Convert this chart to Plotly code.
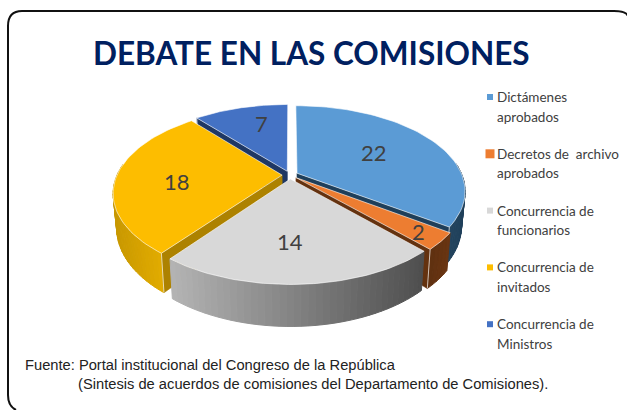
import numpy as np
import plotly.graph_objects as go

title = 'DEBATE EN LAS COMISIONES'
categories = [['Dictámenes', 'aprobados'], ['Decretos de  archivo', 'aprobados'],
              ['Concurrencia de', 'funcionarios'], ['Concurrencia de', 'invitados'],
              ['Concurrencia de', 'Ministros']]
values = [22, 2, 14, 18, 7]
top_colors = ['#5B9BD5', '#ED7D31', '#D8D8D8', '#FDBD00', '#4472C4']
wall_colors = ['#1F3F5A', '#64320F', '#6E6E6E', '#AD8200', '#1F3864']
# outer wall gradient, left to right
side_left = ['#24465F', '#5F3010', '#B4B4B4', '#C89800', '#2A4A80']
side_right = ['#1F3F5A', '#6A3612', '#4E4E4E', '#E2AC00', '#2A4A80']
source = ('Fuente: Portal institucional del Congreso de la República<br>'
          '             (Sintesis de acuerdos de comisiones del Departamento de Comisiones).')

# pie projection, in pixels of the page
CX, CY = 290, 175
RX, RY = 165, 82
PERSP = 0.205
EXPLODE = 0.048
DEPTH = 33
BOTTOM_SHRINK = 0.98


def project(theta, r, mid, low=False):
    # theta clockwise from 12 o'clock, v grows toward the viewer
    px = r*np.sin(theta) + EXPLODE*np.sin(mid)
    v = -r*np.cos(theta) - EXPLODE*np.cos(mid)
    s = 1/(1 - PERSP*v)
    x = CX + RX*px*s
    y = CY + RY*v*s
    if low:
        x = CX + (x - CX)*BOTTOM_SHRINK
        y = y + DEPTH*s
    return x, y


def hex_mix(c1, c2, t):
    a = [int(c1[i:i+2], 16) for i in (1, 3, 5)]
    b = [int(c2[i:i+2], 16) for i in (1, 3, 5)]
    return 'rgb({},{},{})'.format(*[round(p + (q-p)*t) for p, q in zip(a, b)])


def poly(xs, ys, fill, line=None, width=0.6):
    return go.Scatter(x=list(xs), y=list(ys), mode='lines', fill='toself', fillcolor=fill,
                      line=dict(color=line or fill, width=width),
                      hoverinfo='skip', showlegend=False)


fig = go.Figure()

edges = np.cumsum([0] + values)/sum(values)*2*np.pi
starts, ends = edges[:-1], edges[1:]
mids = (starts + ends)/2

# back to front
for i in [4, 0, 3, 1, 2]:
    a0, a1, mid = starts[i], ends[i], mids[i]

    # outer wall strips
    n = max(int(np.degrees(a1 - a0)/2), 2)
    thetas = np.linspace(a0, a1, n + 1)
    rim_all = [project(t, 1, mid)[0] for t in thetas if -np.cos(t) > -0.12]
    if rim_all:
        xmin, xmax = min(rim_all), max(rim_all)
        for t0, t1 in zip(thetas[:-1], thetas[1:]):
            if -np.cos((t0+t1)/2) <= -0.12:
                continue
            x0, y0 = project(t0, 1, mid)
            x1, y1 = project(t1, 1, mid)
            x2, y2 = project(t1, 1, mid, low=True)
            x3, y3 = project(t0, 1, mid, low=True)
            c = hex_mix(side_left[i], side_right[i], ((x0+x1)/2 - xmin)/max(xmax - xmin, 1))
            fig.add_trace(poly([x0, x1, x2, x3, x0], [y0, y1, y2, y3, y0], c, width=1))

    # radial cut walls facing the viewer
    if np.sin(a1) > 0.05:
        wall = a1
    elif -np.sin(a0) > 0.05:
        wall = a0
    else:
        wall = None
    if wall is not None:
        xa, ya = project(wall, 0, mid)
        xb, yb = project(wall, 1, mid)
        xc, yc = project(wall, 1, mid, low=True)
        xd, yd = project(wall, 0, mid, low=True)
        fig.add_trace(poly([xa, xb, xc, xd, xa], [ya, yb, yc, yd, ya], wall_colors[i]))
        fig.add_trace(go.Scatter(x=[xb, xc], y=[yb, yc], mode='lines', hoverinfo='skip', showlegend=False,
                                 line=dict(color='rgba(255,255,255,0.7)', width=1)))

    # top face
    arc = np.linspace(a0, a1, 60)
    ax, ay = project(arc, 1, mid)
    ox, oy = project(0, 0, mid)
    fig.add_trace(poly([ox, *ax, ox], [oy, *ay, oy], top_colors[i], line='rgba(255,255,255,0.75)', width=0.8))

annotations = []

# value labels
label_r = [0.56, 0.86, 0.65, 0.63, 0.7]
label_shift = [-1, 0, 3, -5.5, 5]
for i, val in enumerate(values):
    lx, ly = project(mids[i] + np.radians(label_shift[i]), label_r[i], mids[i])
    annotations.append(dict(x=lx, y=ly, text=str(val), showarrow=False,
                            font=dict(family='Lato', size=22, color='#404040')))

# legend
for i, cat in enumerate(categories):
    ly = 97 + i*56.8
    msize = 9 if i == 1 else 6
    fig.add_trace(go.Scatter(x=[490], y=[ly], mode='markers', hoverinfo='skip', showlegend=False,
                             marker=dict(symbol='square', size=msize, color=top_colors[i])))
    for j, part in enumerate(cat):
        annotations.append(dict(x=495, y=ly + j*19.5, text=part, showarrow=False, xanchor='left', yanchor='middle',
                                font=dict(family='Lato', size=13.5, color='#404040')))

annotations.append(dict(x=311, y=53, text='<b>' + title + '</b>', showarrow=False,
                        font=dict(family='Lato', size=31.5, color='#002060')))
annotations.append(dict(x=23, y=374, text=source, showarrow=False, xanchor='left', yanchor='middle',
                        align='left', font=dict(family='Liberation Sans', size=14.7, color='#222222')))

# rounded frame
frame = ('M 8 26 Q 8 11 22 11 L 614 11 Q 626 11 628 16 '
         'M 8 26 L 8 395 Q 8 406 16 410')

fig.update_layout(
    width=627, height=410,
    margin=dict(l=0, r=0, t=0, b=0),
    paper_bgcolor='white', plot_bgcolor='white',
    showlegend=False,
    xaxis=dict(range=[0, 627], visible=False, fixedrange=True),
    yaxis=dict(range=[410, 0], visible=False, fixedrange=True),
    shapes=[dict(type='path', path=frame, line=dict(color='#111111', width=2))],
    annotations=annotations,
)

# the page's default body margin would shift the figure
fig.write_html("out.html", config=dict(displayModeBar=False),
               post_script="document.body.style.margin='0';document.documentElement.style.overflow='hidden';")
